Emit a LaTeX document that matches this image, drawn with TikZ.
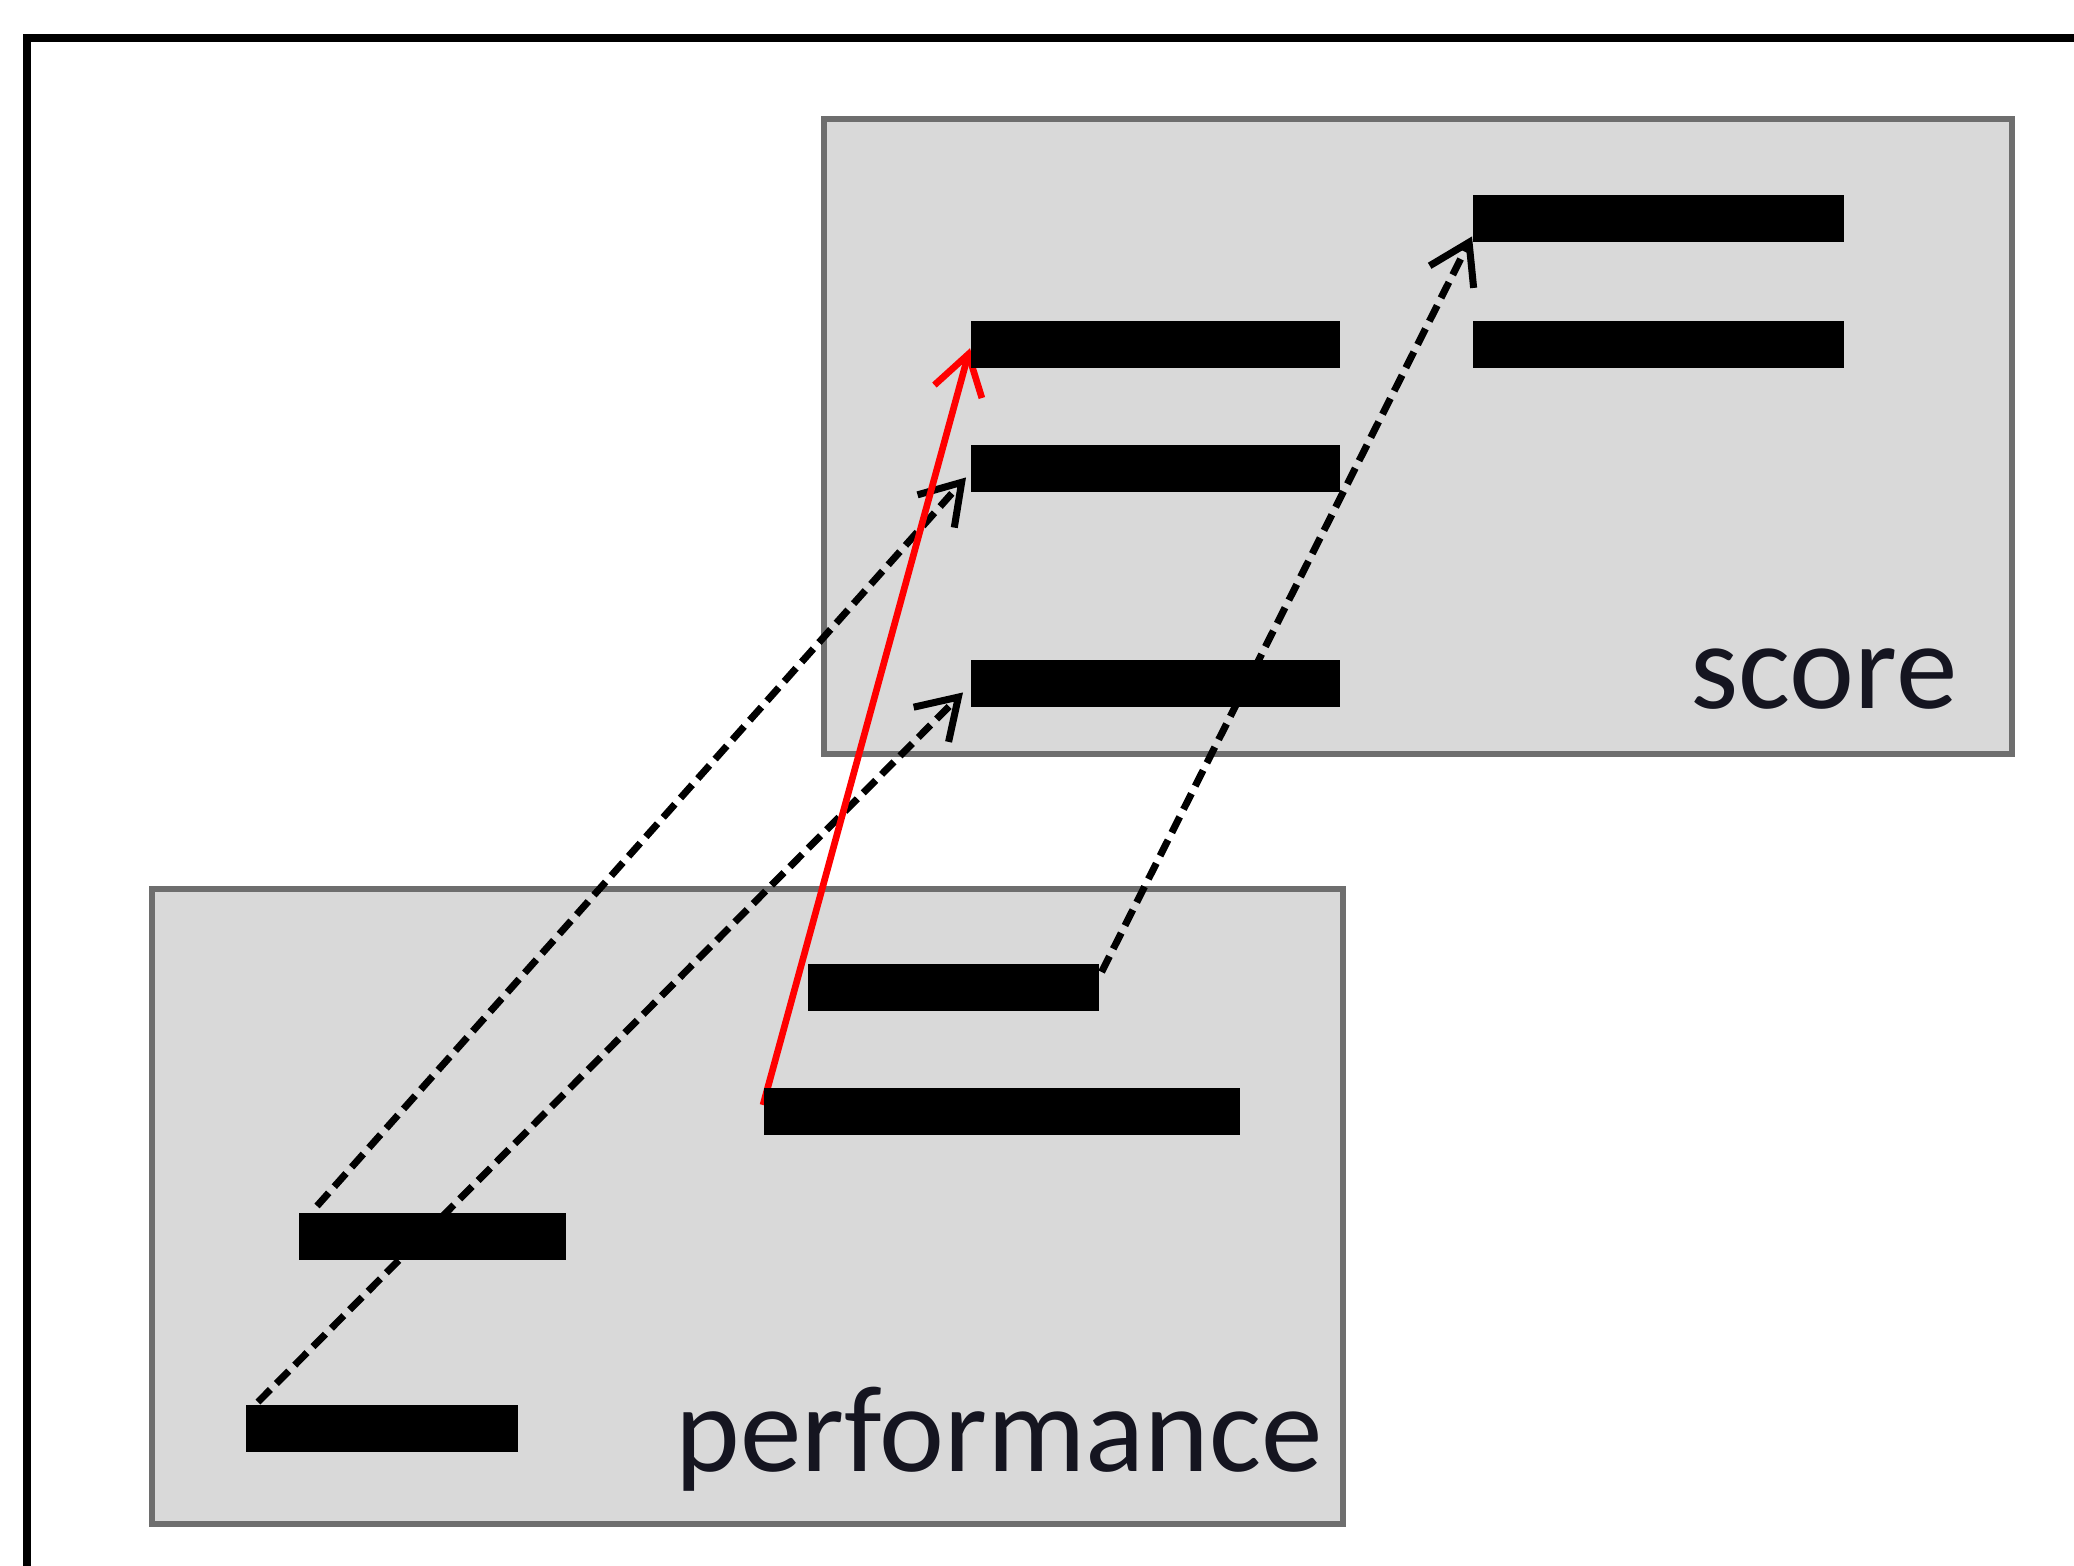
\documentclass[tikz,border=0pt]{standalone}
\usepackage{fontspec}
\setmainfont{Carlito}
\usetikzlibrary{arrows.meta,calc}
\definecolor{panelfill}{HTML}{D9D9D9}
\definecolor{panelborder}{HTML}{6E6E6E}
\definecolor{labelink}{HTML}{151520}
\pgfdeclarelayer{panels}
\pgfdeclarelayer{lines}
\pgfsetlayers{panels,lines,main}
\begin{document}
\begin{tikzpicture}[x=0.01cm,y=-0.01cm,
  panel/.style={draw=panelborder,fill=panelfill,line width=1.9pt},
  bar/.style={fill=black,draw=none,inner sep=0pt,anchor=north west,minimum height=0.47cm},
  tip/.style={-{Straight Barb[length=11pt,width=14pt]}},
  matchline/.style={tip,black,line width=2pt,dash pattern=on 5pt off 2.4pt},
  redline/.style={tip,red,line width=1.9pt},
  label/.style={text=labelink,inner sep=0pt,font=\fontsize{35}{40}\selectfont}]
\useasboundingbox (0,0) rectangle (2074,1565);
\clip (0,0) rectangle (2074,1565);
\draw[black,line width=2.2pt] (27,38) rectangle (2300,1800);
\begin{pgfonlayer}{panels}
\draw[panel] (824,119) rectangle (2012,754);
\draw[panel] (152,889) rectangle (1343,1524);
\end{pgfonlayer}
% score notes
\node[bar,minimum width=3.71cm] (A) at (1472,194) {};
\node[bar,minimum width=3.69cm] (B) at (970,320) {};
\node[bar,minimum width=3.71cm] (C) at (1472,320) {};
\node[bar,minimum width=3.69cm] (D) at (970,444) {};
\node[bar,minimum width=3.69cm] (E) at (970,659) {};
% performance notes
\node[bar,minimum width=2.91cm] (P1) at (807,963) {};
\node[bar,minimum width=4.76cm] (P2) at (763,1087) {};
\node[bar,minimum width=2.67cm] (P3) at (298,1212) {};
\node[bar,minimum width=2.72cm] (P4) at (245,1404) {};
% labels
\node[label,anchor=base east] (scorelabel) at (1958,708) {score};
\node[label,anchor=base east] (perflabel) at (1323,1471) {performance};
% connectors
\begin{pgfonlayer}{lines}
\draw[matchline] ($(P3.north west)+(19,-6)$) -- ($(D.south west)+(-4,-15)$);
\draw[matchline] ($(P4.north west)+(13,-2)$) -- ($(E.south west)+(-7,-15)$);
\draw[matchline] ($(P1.north east)+(2,9)$) -- ($(A.south west)+(0,-6)$);
\draw[redline] ($(P2.north west)+(0,18)$) -- ($(B.west)+(0,4)$);
\end{pgfonlayer}
\end{tikzpicture}
\end{document}
